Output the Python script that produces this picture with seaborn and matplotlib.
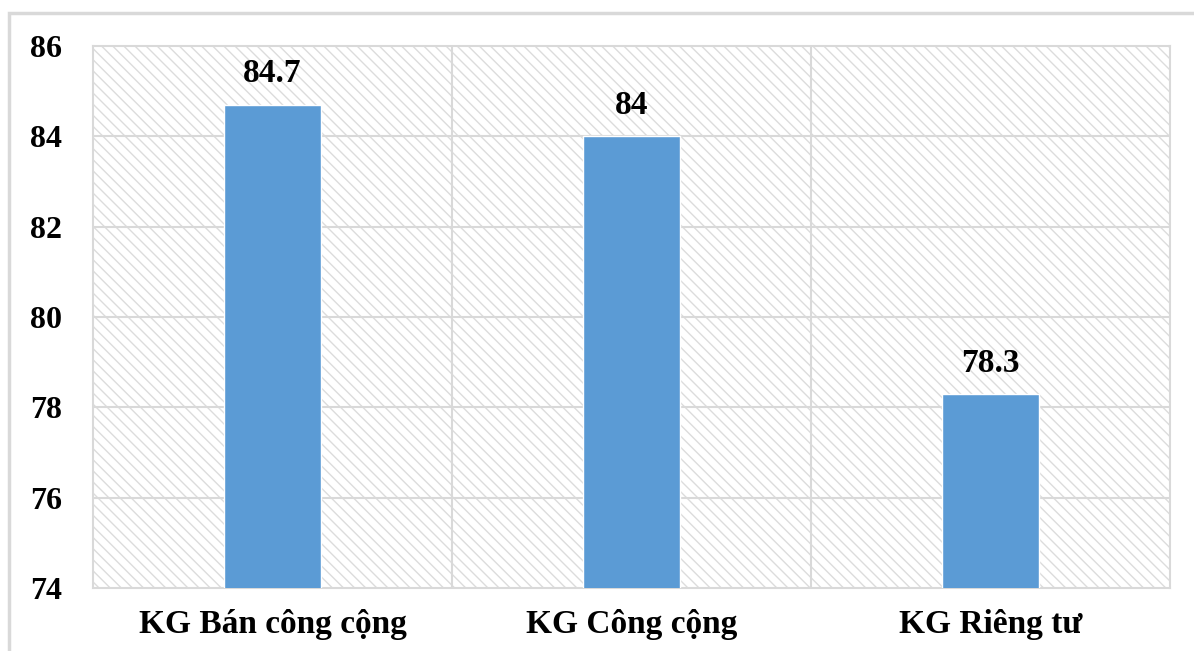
import matplotlib
matplotlib.use("Agg")
import matplotlib.pyplot as plt
from matplotlib.patches import Rectangle
import seaborn as sns
import pandas as pd

categories = ["KG Bán công cộng", "KG Công cộng", "KG Riêng tư"]
values = [84.7, 84.0, 78.3]
value_labels = ["84.7", "84", "78.3"]
y_ticks = [74, 76, 78, 80, 82, 84, 86]

sns.set_theme(style="white")
plt.rcParams["font.family"] = ["Liberation Serif", "DejaVu Serif"]
plt.rcParams["hatch.linewidth"] = 1.0
plt.rcParams["text.color"] = "black"
plt.rcParams["xtick.color"] = "black"
plt.rcParams["ytick.color"] = "black"

df = pd.DataFrame({"cat": categories, "val": values})

fig = plt.figure(figsize=(11.94, 6.51), dpi=100)
fig.patch.set_facecolor("white")

# outer frame of the chart area
fig.add_artist(Rectangle((9 / 1194, -0.05), 1.2, 1 - 13 / 651 + 0.05,
                         transform=fig.transFigure, fill=False,
                         edgecolor="#d9d9d9", linewidth=2.5))

ax = fig.add_axes([93 / 1194, 1 - 588 / 651, (1170 - 93) / 1194, (588 - 46) / 651])

# hatched plot background
ax.add_patch(Rectangle((0, 0), 1, 1, transform=ax.transAxes, facecolor="white",
                       edgecolor="#dcdcdc", hatch="\\\\\\", linewidth=0, zorder=0))

sns.barplot(data=df, x="cat", y="val", color="#5b9bd5", width=0.27,
            saturation=1, ax=ax, zorder=3)

ax.set_ylim(74, 86)
ax.set_xlim(-0.5, 2.5)
ax.set_yticks(y_ticks)
ax.set_yticklabels([str(t) for t in y_ticks])

# grid: horizontal at each tick, vertical between categories
for t in y_ticks[1:-1]:
    ax.axhline(t, color="#d9d9d9", linewidth=1.5, zorder=1)
for xb in [0.5, 1.5]:
    ax.axvline(xb, color="#d9d9d9", linewidth=1.5, zorder=1)

for sp in ax.spines.values():
    sp.set_visible(True)
    sp.set_color("#d9d9d9")
    sp.set_linewidth(1.5)

ax.set_xlabel("")
ax.set_ylabel("")
ax.tick_params(axis="both", length=0)
ax.tick_params(axis="y", labelsize=23, pad=22)
ax.tick_params(axis="x", labelsize=24, pad=15)
for lbl in ax.get_xticklabels() + ax.get_yticklabels():
    lbl.set_fontweight("bold")
    lbl.set_color("black")

for i, (v, s) in enumerate(zip(values, value_labels)):
    ax.annotate(s, xy=(i, v), xytext=(0, 11), textcoords="offset points",
                ha="center", va="bottom", fontsize=24, fontweight="bold",
                color="black", zorder=5)

fig.savefig("out.png", dpi=100, facecolor="white")
